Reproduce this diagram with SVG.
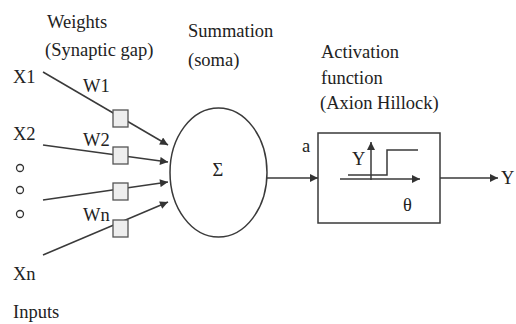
<svg xmlns="http://www.w3.org/2000/svg" width="516" height="324" viewBox="0 0 516 324">
  <defs>
    <marker id="ah" viewBox="0 0 10 10" refX="10" refY="5" markerWidth="9" markerHeight="8" markerUnits="userSpaceOnUse" orient="auto">
      <path d="M0,0 L10,5 L0,10 z" fill="#333"/>
    </marker>
    <style>
      text { font-size: 18.5px; fill: #222; }
      .ln { stroke: #3a3a3a; stroke-width: 1.5; fill: none; }
      .arr { marker-end: url(#ah); }
      .wbox { fill: #eeeeee; stroke: #555; stroke-width: 1.3; }
      .dot { fill: none; stroke: #333; stroke-width: 1.3; }
    </style>
  </defs>
  <rect width="516" height="324" fill="#fff"/>
  <g font-family="Liberation Serif, Tinos, DejaVu Serif, Noto Serif, serif">

  <g id="labels">
    <text x="47" y="28">Weights</text>
    <text x="45" y="56">(Synaptic gap)</text>
    <text x="188" y="37">Summation</text>
    <text x="188" y="66">(soma)</text>
    <text x="321" y="58">Activation</text>
    <text x="321" y="84">function</text>
    <text x="320" y="109">(Axion Hillock)</text>
  </g>

  <g id="inputs">
    <text x="13" y="83">X1</text>
    <text x="13" y="140">X2</text>
    <circle class="dot" cx="20" cy="168" r="3.5"/>
    <circle class="dot" cx="20" cy="190" r="3.5"/>
    <circle class="dot" cx="20" cy="214" r="3.5"/>
    <text x="13" y="280">Xn</text>
    <text x="13" y="318">Inputs</text>
  </g>

  <g id="connectors">
    <line class="ln arr" x1="43" y1="72" x2="168" y2="145"/>
    <line class="ln arr" x1="43" y1="145" x2="168" y2="162"/>
    <line class="ln arr" x1="43" y1="200" x2="168" y2="182"/>
    <line class="ln arr" x1="43" y1="255" x2="168" y2="202"/>
    <line class="ln arr" x1="267" y1="178" x2="318" y2="178"/>
    <line class="ln arr" x1="440" y1="178" x2="498" y2="178"/>
  </g>

  <g id="weights">
    <rect class="wbox" x="113" y="110" width="15" height="17"/>
    <rect class="wbox" x="113" y="147" width="15" height="17"/>
    <rect class="wbox" x="113" y="183" width="15" height="17"/>
    <rect class="wbox" x="113" y="220" width="15" height="17"/>
    <text x="83" y="92">W1</text>
    <text x="83" y="146">W2</text>
    <text x="83" y="221">Wn</text>
  </g>

  <g id="summation">
    <ellipse cx="218.5" cy="172.5" rx="48.5" ry="64.5" fill="#fff" stroke="#3a3a3a" stroke-width="1.5"/>
    <text x="218" y="176" text-anchor="middle">Σ</text>
  </g>

  <text x="302" y="152">a</text>

  <g id="activation">
    <rect x="318" y="133" width="122" height="90" fill="#fff" stroke="#3a3a3a" stroke-width="1.5"/>
    <line class="ln arr" x1="371" y1="180" x2="371" y2="142"/>
    <line class="ln arr" x1="340" y1="179" x2="420" y2="179"/>
    <polyline class="ln" points="348,175 387,175 387,150 418,150"/>
    <text x="352" y="165">Y</text>
    <text x="403" y="211">θ</text>
  </g>

  <text x="501" y="184">Y</text>
  </g>
</svg>
